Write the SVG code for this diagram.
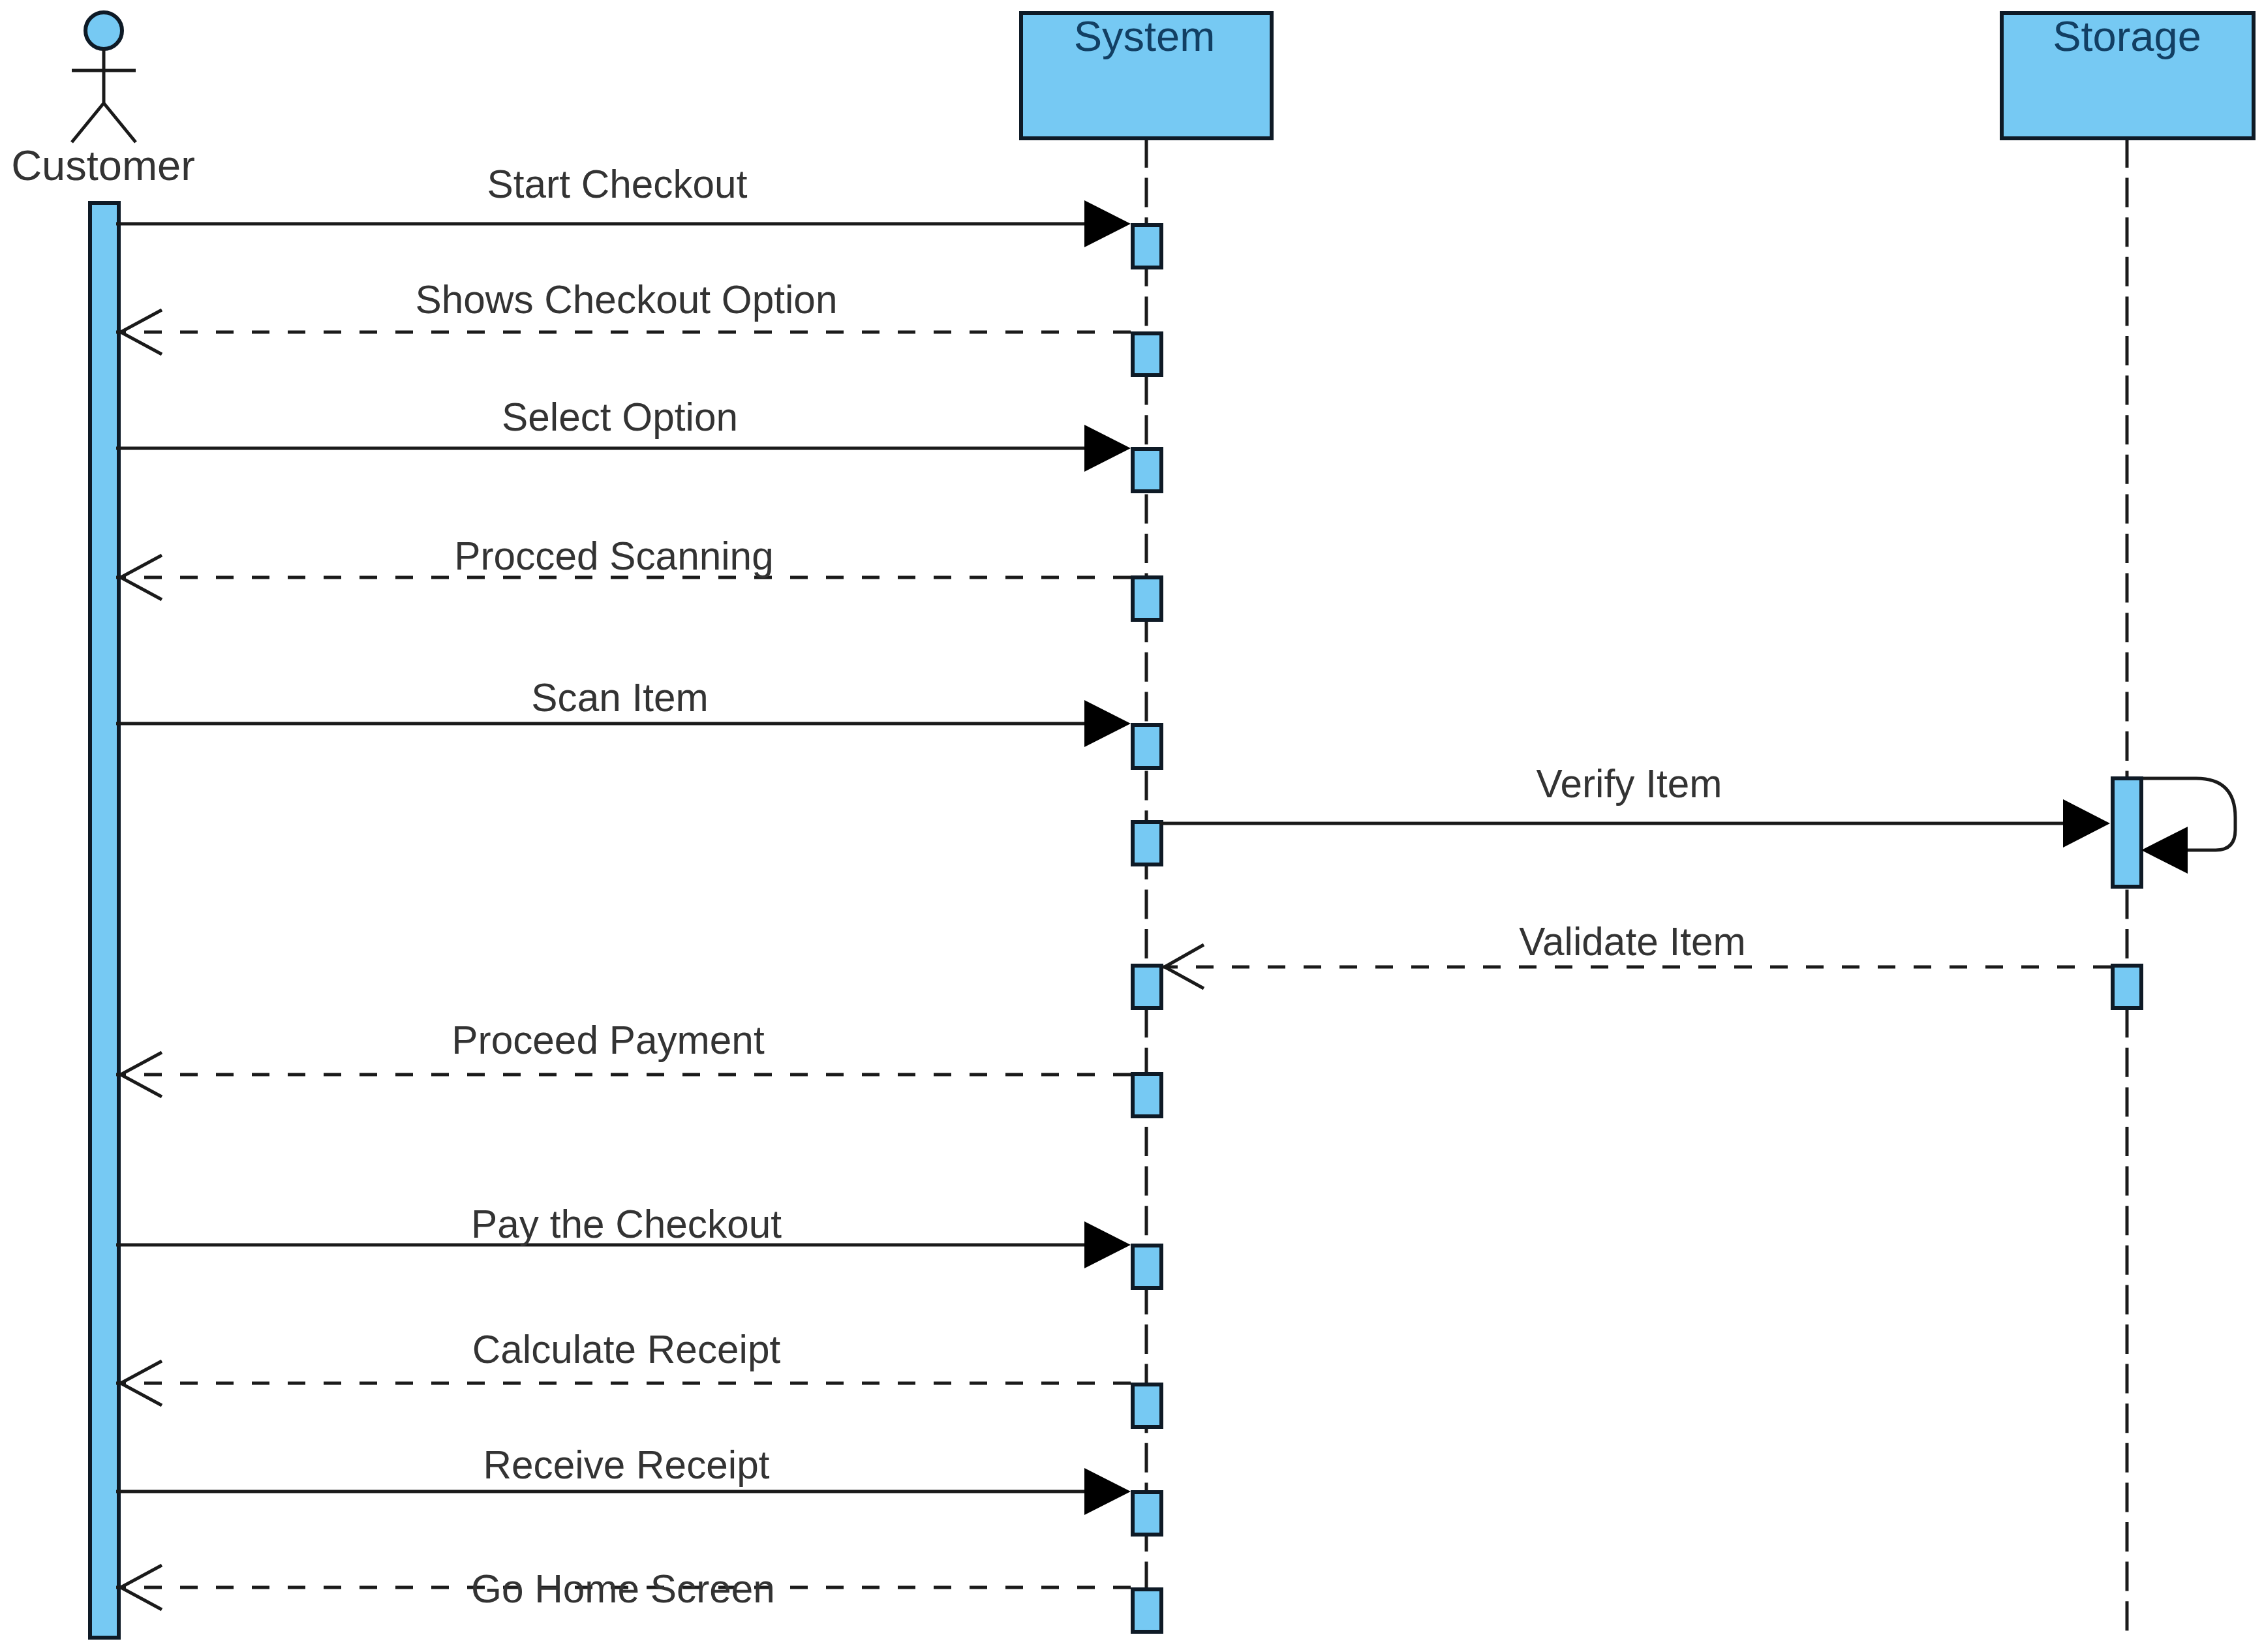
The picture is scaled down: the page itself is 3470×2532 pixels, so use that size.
<svg xmlns="http://www.w3.org/2000/svg" width="3470" height="2532" viewBox="0 0 3470 2532">
<defs>
<style>
.box{fill:#76c9f3;stroke:#0e1a26;stroke-width:6}
.life{fill:none;stroke:#1a1a1a;stroke-width:5;stroke-dasharray:45 15.6}
.msg{fill:none;stroke:#1a1a1a;stroke-width:5}
.ret{fill:none;stroke:#1a1a1a;stroke-width:5;stroke-dasharray:27 28}
.open{fill:none;stroke:#1a1a1a;stroke-width:5}
.head{fill:#000;stroke:none}
text{font-family:"Liberation Sans",Arial,sans-serif;font-size:60.3px;fill:#333;text-anchor:middle}
.title{font-size:65px;fill:#123f63}
.actor{font-size:65px}
</style>
</defs>
<rect width="3470" height="2532" fill="#fff"/>
<g id="lifelines">
<path class="life" d="M1757 212V2440"/>
<path class="life" d="M3260 212V2502"/>
</g>
<g id="node-customer">
<circle class="box" cx="159" cy="47" r="28"/>
<path class="msg" d="M159 75V158M110 108H208M159 158L110 218M159 158L208 218"/>
<text class="actor" x="158" y="276">Customer</text>
<rect class="box" x="138" y="311" width="44" height="2199"/>
</g>
<g id="node-system">
<rect class="box" x="1565" y="20" width="384" height="192"/>
<text class="title" x="1754" y="78">System</text>
</g>
<g id="node-storage">
<rect class="box" x="3068" y="20" width="386" height="192"/>
<text class="title" x="3260" y="78">Storage</text>
</g>
<g id="activations">
<rect class="box" x="1736" y="345" width="44" height="65"/>
<rect class="box" x="1736" y="511" width="44" height="64"/>
<rect class="box" x="1736" y="688" width="44" height="65"/>
<rect class="box" x="1736" y="885" width="44" height="65"/>
<rect class="box" x="1736" y="1111" width="44" height="66"/>
<rect class="box" x="1736" y="1260" width="44" height="65"/>
<rect class="box" x="1736" y="1480" width="44" height="65"/>
<rect class="box" x="1736" y="1646" width="44" height="65"/>
<rect class="box" x="1736" y="1909" width="44" height="65"/>
<rect class="box" x="1736" y="2122" width="44" height="65"/>
<rect class="box" x="1736" y="2287" width="44" height="65"/>
<rect class="box" x="1736" y="2436" width="44" height="65"/>
<rect class="box" x="3238" y="1193" width="44" height="166"/>
<rect class="box" x="3238" y="1480" width="44" height="65"/>
</g>
<g id="connectors">
<path class="msg" d="M178 343H1680"/><path class="head" d="M1662 307L1733 343L1662 379Z"/>
<path class="ret" d="M1733 509H178"/><path class="open" d="M248 475L185 509L248 543"/>
<path class="msg" d="M178 687H1680"/><path class="head" d="M1662 651L1733 687L1662 723Z"/>
<path class="ret" d="M1733 885H178"/><path class="open" d="M248 851L185 885L248 919"/>
<path class="msg" d="M178 1109H1680"/><path class="head" d="M1662 1073L1733 1109L1662 1145Z"/>
<path class="msg" d="M1778 1262H3180"/><path class="head" d="M3162 1225L3234 1262L3162 1299Z"/>
<path class="ret" d="M3235 1482H1782"/><path class="open" d="M1845 1448L1785 1482L1845 1515"/>
<path class="ret" d="M1733 1647H178"/><path class="open" d="M248 1613L185 1647L248 1681"/>
<path class="msg" d="M178 1908H1680"/><path class="head" d="M1662 1872L1733 1908L1662 1944Z"/>
<path class="ret" d="M1733 2120H178"/><path class="open" d="M248 2086L185 2120L248 2154"/>
<path class="msg" d="M178 2286H1680"/><path class="head" d="M1662 2250L1733 2286L1662 2322Z"/>
<path class="ret" d="M1733 2433H178"/><path class="open" d="M248 2399L185 2433L248 2467"/>
<path class="msg" d="M3285 1193H3366Q3426 1193 3426 1253V1272Q3426 1303 3396 1303H3345"/><path class="head" d="M3353 1267L3282 1303L3353 1339Z"/>
</g>
<g id="labels">
<text x="946" y="303">Start Checkout</text>
<text x="960" y="480">Shows Checkout Option</text>
<text x="950" y="660">Select Option</text>
<text x="941" y="873">Procced Scanning</text>
<text x="950" y="1090">Scan Item</text>
<text x="2497" y="1222">Verify Item</text>
<text x="2502" y="1464">Validate Item</text>
<text x="932" y="1615">Proceed Payment</text>
<text x="960" y="1897">Pay the Checkout</text>
<text x="960" y="2089">Calculate Receipt</text>
<text x="960" y="2266">Receive Receipt</text>
<text x="955" y="2456">Go Home Screen</text>
</g>
</svg>
